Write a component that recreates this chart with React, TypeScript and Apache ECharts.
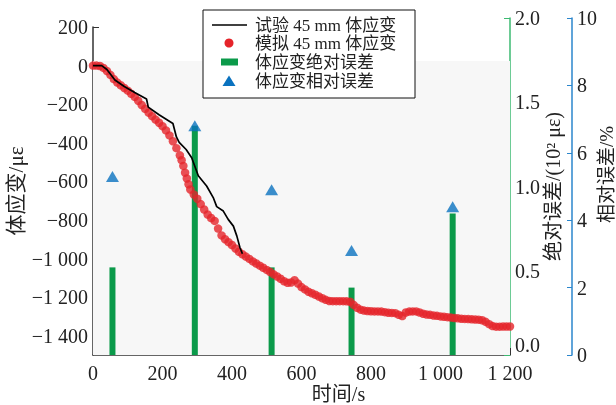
import { useEffect, useRef } from "react";
import * as echarts from "echarts";

// Simulated 45 mm volumetric strain (red dots)
const SIM_TIME = [
  0, 10, 20, 30, 40, 50, 60, 70, 80, 90, 100, 110, 120, 130, 140, 150, 160, 170, 180, 190,
  200, 210, 220, 230, 240, 250, 255, 260, 265, 270, 275, 280, 290, 300, 310, 320, 330, 340, 350, 360,
  370, 380, 390, 400, 410, 420, 430, 440, 450, 460, 470, 480, 490, 500, 510, 520, 530, 540, 550, 560,
  570, 580, 590, 600, 610, 620, 630, 640, 650, 660, 670, 680, 690, 700, 710, 720, 730, 740, 750, 760,
  770, 780, 790, 800, 810, 820, 830, 840, 850, 860, 870, 880, 890, 900, 910, 920, 930, 940, 950, 960,
  970, 980, 990, 1000, 1010, 1020, 1030, 1040, 1050, 1060, 1070, 1080, 1090, 1100, 1110, 1120, 1130, 1140, 1150, 1160,
  1170, 1180, 1190, 1200,
];
const SIM_STRAIN = [
  0, 0, -2, -12, -28, -48, -70, -88, -102, -116, -130, -146, -162, -182, -204, -224, -244, -262, -280, -296,
  -314, -336, -362, -392, -428, -465, -490, -520, -555, -585, -615, -642, -668, -690, -718, -746, -772, -790, -805, -845,
  -880, -900, -915, -930, -948, -965, -978, -990, -1002, -1015, -1026, -1037, -1048, -1059, -1070, -1082, -1093, -1105, -1118, -1126,
  -1124, -1112, -1130, -1148, -1160, -1172, -1180, -1188, -1197, -1206, -1214, -1220, -1221, -1221, -1221, -1221, -1222, -1224, -1240, -1255,
  -1265, -1270, -1272, -1273, -1274, -1274, -1275, -1278, -1281, -1282, -1283, -1292, -1298, -1280, -1275, -1274, -1274, -1280, -1286, -1290,
  -1292, -1295, -1297, -1300, -1302, -1304, -1306, -1308, -1310, -1312, -1313, -1314, -1315, -1316, -1317, -1320, -1328, -1340, -1350, -1353,
  -1353, -1352, -1352, -1352,
];

// Test 45 mm volumetric strain (black line)
const TEST_TIME = [0, 25, 40, 63, 90, 120, 154, 159, 190, 230, 240, 248, 268, 284, 303, 327, 346, 356, 375, 389, 404, 414, 423, 430];
const TEST_STRAIN = [0, 0, -20, -75, -108, -140, -173, -215, -255, -300, -370, -398, -435, -478, -571, -624, -684, -731, -754, -797, -832, -884, -944, -975];

// Errors
const ERR_TIME = [56, 293, 514, 744, 1035];
const ABS_ERR = [0.52, 1.36, 0.52, 0.4, 0.84]; // 10^2 με
const REL_ERR = [5.3, 6.8, 4.9, 3.1, 4.4]; // %

const LEFT_TICKS = [200, 0, -200, -400, -600, -800, -1000, -1200, -1400];
const LEGEND_NAMES = ["试验 45 mm 体应变", "模拟 45 mm 体应变", "体应变绝对误差", "体应变相对误差"];

const FONT = '"Liberation Serif", "Noto Sans CJK SC", serif';
const RED = "#e5242a";
const GREEN = "#0b9a4a";
const GREEN_AXIS = "#3dba72";
const BLUE = "#0a72bf";
const BLUE_AXIS = "#2b86cc";
const INK = "#222";

function spaced(n: number): string {
  const s = String(Math.abs(Math.round(n)));
  return s.replace(/\B(?=(\d{3})+(?!\d))/g, " ");
}
function signed(n: number): string {
  return (n < 0 ? "−" : "") + spaced(n);
}

export default function App() {
  const ref = useRef<HTMLDivElement>(null);
  useEffect(() => {
    if (!ref.current) return;
    const chart = echarts.init(ref.current, undefined, { renderer: "svg" });

    const sim = SIM_TIME.map((t, i) => [t, SIM_STRAIN[i]]);
    const test = TEST_TIME.map((t, i) => [t, TEST_STRAIN[i]]);
    const absErr = ERR_TIME.map((t, i) => [t, ABS_ERR[i]]);
    const relErr = ERR_TIME.map((t, i) => [t, REL_ERR[i]]);

    const legendX = 203;
    const legendY = 10;
    const rowY = [25, 43, 62, 81];
    const iconCx = 229;
    const textX = 255;
    const LZ = 100;

    chart.setOption({
      animation: false,
      textStyle: { fontFamily: FONT },
      grid: [
        { left: 93, right: 106, top: 27, bottom: 50, containLabel: false, outerBoundsMode: "none" },
        { left: 93, right: 106, top: 18, bottom: 50, containLabel: false, outerBoundsMode: "none" },
      ],
      xAxis: [
        {
          type: "value",
          gridIndex: 0,
          min: 0,
          max: 1200,
          interval: 200,
          axisLine: { show: true, onZero: false, lineStyle: { color: "#333", width: 1.5 } },
          axisTick: { show: true, inside: true, length: 7, lineStyle: { color: "#333" } },
          axisLabel: { fontSize: 20, color: INK, fontFamily: FONT, margin: 8, formatter: (v: number) => spaced(v) },
          splitLine: { show: false },
          name: "时间/s",
          nameLocation: "middle",
          nameGap: 29,
          nameMoveOverlap: false,
          nameTextStyle: { fontSize: 20, color: INK, fontFamily: FONT, padding: [0, 0, 0, 74] },
        },
        { type: "value", gridIndex: 1, min: 0, max: 1200, show: false, axisLine: { onZero: false } },
      ],
      yAxis: [
        {
          type: "value",
          gridIndex: 0,
          position: "left",
          min: -1500,
          max: 200,
          axisLine: { show: true, onZero: false, lineStyle: { color: "#333", width: 1.5 } },
          axisTick: { show: true, inside: true, length: 6, customValues: LEFT_TICKS, lineStyle: { color: "#333" } },
          axisLabel: { customValues: LEFT_TICKS, fontSize: 20, color: INK, fontFamily: FONT, margin: 5, formatter: (v: number) => signed(v) },
          splitLine: { show: false },
          name: "体应变/με",
          nameLocation: "middle",
          nameGap: 67,
          nameMoveOverlap: false,
          nameTextStyle: { fontSize: 21, color: INK, fontFamily: FONT },
        },
        {
          type: "value",
          gridIndex: 1,
          position: "right",
          min: 0,
          max: 2,
          interval: 0.5,
          axisLine: { show: true, onZero: false, lineStyle: { color: GREEN_AXIS, width: 1.5 } },
          axisTick: { show: true, inside: true, length: 6, lineStyle: { color: GREEN_AXIS } },
          axisLabel: {
            fontSize: 20,
            color: INK,
            fontFamily: FONT,
            margin: 5,
            verticalAlignMinLabel: "bottom",
            formatter: (v: number) => v.toFixed(1),
          },
          splitLine: { show: false },
          name: "绝对误差/(10² με)",
          nameLocation: "middle",
          nameGap: 33,
          nameMoveOverlap: false,
          nameTextStyle: { fontSize: 20, color: INK, fontFamily: FONT },
        },
        {
          type: "value",
          gridIndex: 1,
          position: "right",
          offset: 62,
          min: 0,
          max: 10,
          interval: 2,
          axisLine: { show: true, onZero: false, lineStyle: { color: BLUE_AXIS, width: 1.5 } },
          axisTick: { show: true, inside: true, length: 5, lineStyle: { color: BLUE_AXIS } },
          axisLabel: { fontSize: 20, color: INK, fontFamily: FONT, margin: 5 },
          splitLine: { show: false },
          name: "相对误差/%",
          nameLocation: "middle",
          nameGap: 25,
          nameMoveOverlap: false,
          nameTextStyle: { fontSize: 19, color: INK, fontFamily: FONT, padding: [0, 0, 0, 24] },
        },
      ],
      series: [
        {
          name: LEGEND_NAMES[1],
          type: "scatter",
          xAxisIndex: 0,
          yAxisIndex: 0,
          data: sim,
          symbol: "circle",
          symbolSize: 8.5,
          itemStyle: { color: RED },
          markArea: {
            silent: true,
            itemStyle: { color: "#f7f7f7" },
            data: [[{ xAxis: 0, yAxis: 24 }, { xAxis: 1200, yAxis: -1500 }]],
          },
        },
        {
          name: LEGEND_NAMES[0],
          type: "line",
          xAxisIndex: 0,
          yAxisIndex: 0,
          data: test,
          symbol: "none",
          lineStyle: { color: "#000", width: 1.7 },
        },
        {
          name: LEGEND_NAMES[2],
          type: "bar",
          xAxisIndex: 1,
          yAxisIndex: 1,
          data: absErr,
          barWidth: 6,
          itemStyle: { color: GREEN },
        },
        {
          name: LEGEND_NAMES[3],
          type: "scatter",
          xAxisIndex: 1,
          yAxisIndex: 2,
          data: relErr,
          symbol: "triangle",
          symbolSize: [13, 11],
          itemStyle: { color: BLUE },
        },
      ],
      graphic: [
        {
          type: "rect",
          z: LZ,
          shape: { x: legendX, y: legendY, width: 212, height: 88 },
          style: { fill: "#fff", stroke: "#111", lineWidth: 1 },
        },
        {
          type: "line",
          z: LZ + 1,
          shape: { x1: iconCx - 17, y1: rowY[0], x2: iconCx + 18, y2: rowY[0] },
          style: { stroke: "#000", lineWidth: 1.5 },
        },
        { type: "circle", z: LZ + 1, shape: { cx: iconCx, cy: rowY[1], r: 4.5 }, style: { fill: RED } },
        { type: "rect", z: LZ + 1, shape: { x: iconCx - 8, y: rowY[2] - 3.5, width: 17, height: 7 }, style: { fill: GREEN } },
        {
          type: "polygon",
          z: LZ + 1,
          shape: { points: [[iconCx, rowY[3] - 5.5], [iconCx - 6.5, rowY[3] + 5], [iconCx + 6.5, rowY[3] + 5]] },
          style: { fill: BLUE },
        },
        ...LEGEND_NAMES.map((name, i) => ({
          type: "text",
          z: LZ + 1,
          x: textX,
          y: rowY[i],
          style: { text: name, fill: INK, font: `17px ${FONT}`, verticalAlign: "middle", align: "left" },
        })),
      ],
    });
    return () => chart.dispose();
  }, []);
  return <div ref={ref} style={{ position: "fixed", left: 0, top: 0, width: 616, height: 405 }} />;
}
